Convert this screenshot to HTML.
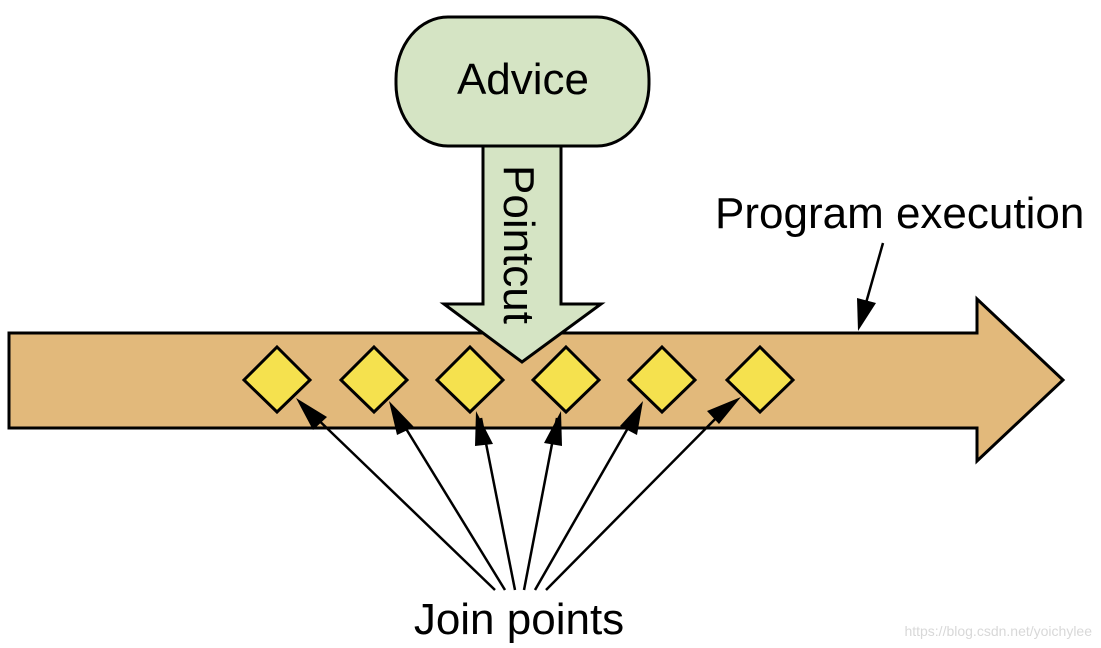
<!DOCTYPE html>
<html><head><meta charset="utf-8"><style>
html,body{margin:0;padding:0;background:#fff;}
svg{display:block;}
text{font-family:"Liberation Sans",Arial,sans-serif;fill:#000;}
</style></head><body>
<svg width="1101" height="648" viewBox="0 0 1101 648" xmlns="http://www.w3.org/2000/svg">
<!-- big program arrow -->
<polygon points="9,333 977,333 977,299 1063,380 977,461 977,428 9,428" fill="#e2b97b" stroke="#000" stroke-width="3" stroke-linejoin="miter"/>
<!-- Pointcut arrow -->
<polygon points="483,140 561,140 561,304 601,304 522,362 444,304 483,304" fill="#d5e4c4" stroke="#000" stroke-width="3"/>
<!-- Advice box -->
<rect x="396" y="17" width="253" height="129" rx="52" ry="62" fill="#d5e4c4" stroke="#000" stroke-width="3"/>
<text x="523" y="94" font-size="44" text-anchor="middle">Advice</text>
<text transform="translate(504,165) rotate(90)" font-size="44">Pointcut</text>
<!-- diamonds -->
<g fill="#f5e14e" stroke="#000" stroke-width="3">
<polygon points="277,347 310,380 277,412 244,380"/>
<polygon points="374,347 407,380 374,412 341,380"/>
<polygon points="470,347 503,380 470,412 437,380"/>
<polygon points="566,347 599,380 566,412 533,380"/>
<polygon points="662,347 695,380 662,412 629,380"/>
<polygon points="760,347 793,380 760,412 727,380"/>
</g>
<!-- join point lines -->
<g stroke="#000" stroke-width="2.5">
<line x1="495" y1="590" x2="306" y2="408"/>
<line x1="505" y1="590" x2="397" y2="414"/>
<line x1="515" y1="590" x2="481" y2="418"/>
<line x1="524" y1="590" x2="557" y2="418"/>
<line x1="535" y1="590" x2="636" y2="414"/>
<line x1="546" y1="590" x2="730" y2="404"/>
<line x1="883" y1="243" x2="864" y2="310"/>
</g>
<g fill="#000">
<polygon points="296,398 327,417 313,430"/>
<polygon points="389,401 414,427 397,435"/>
<polygon points="476,411 493,444 475,446"/>
<polygon points="561,411 562,446 544,443"/>
<polygon points="643,401 637,435 620,426"/>
<polygon points="741,397 719,424 707,411"/>
<polygon points="858,331 857,298 876,303"/>
</g>
<text x="715" y="228" font-size="44">Program execution</text>
<text x="519" y="634" font-size="44" text-anchor="middle">Join points</text>
<text x="1092" y="636" font-size="14" text-anchor="end" style="fill:#d8d8d8">https://blog.csdn.net/yoichylee</text>
</svg>
</body></html>
